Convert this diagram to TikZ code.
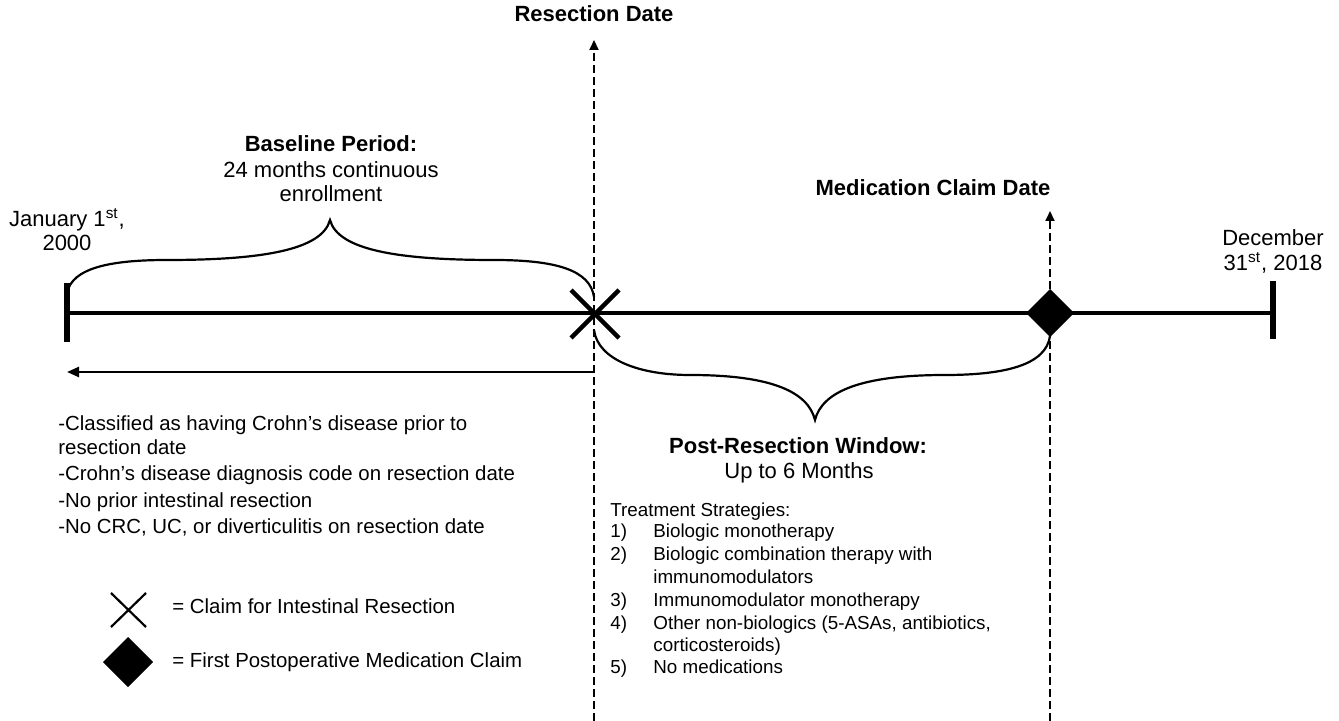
\documentclass[tikz,border=0pt]{standalone}
\usepackage{fontspec}
\setmainfont{Liberation Sans}
\usetikzlibrary{arrows.meta}
\begin{document}
\begin{tikzpicture}[x=0.5pt,y=-0.5pt,
  lbl/.style={inner sep=0pt, text height=8pt, text depth=2.3pt, font=\fontsize{11}{13}\selectfont},
  hdr/.style={inner sep=0pt, text height=8pt, text depth=2.3pt, font=\fontsize{11}{13}\selectfont\bfseries},
  lst/.style={inner sep=0pt, anchor=west, text height=7.4pt, text depth=2.1pt, font=\fontsize{10.2}{12}\selectfont},
  trt/.style={inner sep=0pt, anchor=west, text height=6.9pt, text depth=2pt, font=\fontsize{9.4}{11}\selectfont},
  tline/.style={line width=2pt},
  tick/.style={line width=2.6pt},
  brace/.style={line width=1.1pt},
  dashv/.style={line width=1pt, dash pattern=on 4pt off 2pt, -{Triangle[length=5pt,width=4.5pt]}},
  xmark/.style={line width=2.2pt},
  diam/.style={fill=black, draw=none}
]
\useasboundingbox (0,0) rectangle (1339,721);

% coordinates
\coordinate (start) at (67,313);
\coordinate (res) at (594,313);
\coordinate (med) at (1050,313);
\coordinate (end) at (1273,313);
\coordinate (resBot) at (594,721);
\coordinate (resTop) at (594,40);
\coordinate (medBot) at (1050,721);
\coordinate (medTop) at (1050,211);
\coordinate (arrS) at (594,372);
\coordinate (arrE) at (67,372);

% dashed vertical lines
\draw[dashv] (resBot) -- (resTop);
\draw[dashv] (medBot) -- (medTop);

% timeline
\draw[tline] (start) -- (end);
\draw[tick] (67,283) -- (67,342);
\draw[tick] (1273,281) -- (1273,339);

% X mark at resection
\draw[xmark] (571,290) -- (619,338);
\draw[xmark] (571,338) -- (619,290);

% diamond at medication claim
\fill[diam] (1050,289) -- (1074,313) -- (1050,337) -- (1026,313) -- cycle;

% backward arrow
\draw[line width=1.2pt, -{Triangle[length=6pt,width=5pt]}] (arrS) -- (arrE);

% upper brace
\draw[brace] (67,293) .. controls (72,268) and (110,260) .. (167,260)
  .. controls (262,260) and (322,250) .. (330,220)
  .. controls (338,250) and (398,260) .. (494,260)
  .. controls (556,260) and (590,270) .. (594,297);

% lower brace
\draw[brace] (594,330) .. controls (598,360) and (640,375) .. (690,375)
  .. controls (772,375) and (808,392) .. (815,420)
  .. controls (822,392) and (860,375) .. (945,375)
  .. controls (1005,375) and (1046,365) .. (1050,336);

% top labels
\node[hdr] (resdate) at (594,16) {Resection Date};
\node[hdr] (meddate) at (933,190) {Medication Claim Date};

\node[hdr] (base1) at (331,146) {Baseline Period:};
\node[lbl] (base2) at (331,172) {24 months continuous};
\node[lbl] (base3) at (331,196) {enrollment};

\node[lbl] (jan1) at (67,221) {January 1\textsuperscript{st},};
\node[lbl] (jan2) at (67,245) {2000};

\node[lbl] (dec1) at (1273,240) {December};
\node[lbl] (dec2) at (1273,265) {31\textsuperscript{st}, 2018};

% left criteria list
\node[lst] (c1) at (58,425) {-Classified as having Crohn’s disease prior to};
\node[lst] (c1b) at (58,449) {resection date};
\node[lst] (c2) at (58,475) {-Crohn’s disease diagnosis code on resection date};
\node[lst] (c3) at (58,502) {-No prior intestinal resection};
\node[lst] (c4) at (58,528) {-No CRC, UC, or diverticulitis on resection date};

% legend
\draw[line width=1.1pt] (111,593) -- (146,627);
\draw[line width=1.1pt] (111,627) -- (146,593);
\fill[diam] (128,637) -- (153,662) -- (128,687) -- (103,662) -- cycle;
\node[lst] (leg1) at (172,608) {= Claim for Intestinal Resection};
\node[lst] (leg2) at (172,662) {= First Postoperative Medication Claim};

% post-resection window
\node[hdr] (post1) at (798,448) {Post-Resection Window:};
\node[lbl] (post2) at (799,473) {Up to 6 Months};

% treatment strategies
\node[trt] (ts) at (610,512) {Treatment Strategies:};
\node[trt] (n1) at (610,533) {1)};
\node[trt] (t1) at (653,533) {Biologic monotherapy};
\node[trt] (n2) at (610,556) {2)};
\node[trt] (t2) at (653,556) {Biologic combination therapy with};
\node[trt] (t2b) at (653,579) {immunomodulators};
\node[trt] (n3) at (610,602) {3)};
\node[trt] (t3) at (653,602) {Immunomodulator monotherapy};
\node[trt] (n4) at (610,625) {4)};
\node[trt] (t4) at (653,625) {Other non-biologics (5-ASAs, antibiotics,};
\node[trt] (t4b) at (653,647) {corticosteroids)};
\node[trt] (n5) at (610,669) {5)};
\node[trt] (t5) at (653,669) {No medications};
\end{tikzpicture}
\end{document}
